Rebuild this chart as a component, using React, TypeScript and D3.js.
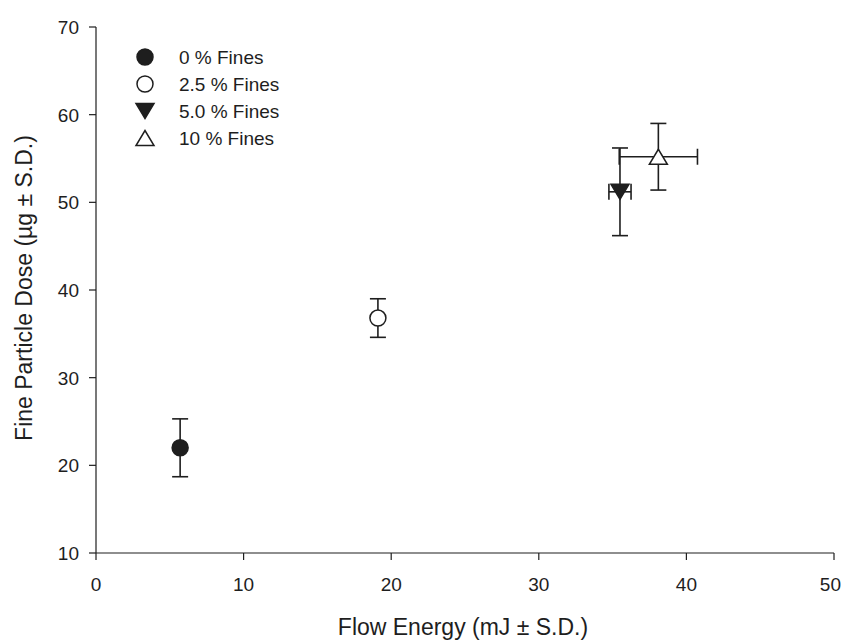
import React, { useEffect } from "react";
import * as d3 from "d3";

// Flow energy vs fine particle dose for blends with different fines content
const seriesNames = ["0 % Fines", "2.5 % Fines", "5.0 % Fines", "10 % Fines"];
const flowEnergy = [5.7, 19.1, 35.5, 38.1];
const flowEnergySD = [0, 0, 0.75, 2.65];
const particleDose = [22.0, 36.8, 51.2, 55.2];
const particleDoseSD = [3.3, 2.2, 5.0, 3.8];
const markerShapes = ["circle", "circle", "triangleDown", "triangleUp"];
const markerFilled = [true, false, true, false];

const xTicks = [0, 10, 20, 30, 40, 50];
const yTicks = [10, 20, 30, 40, 50, 60, 70];

const W = 842;
const H = 640;
const INK = "#1e1e1e";
const FONT = "'Liberation Sans', Arial, sans-serif";

const x = d3.scaleLinear().domain([0, 50]).range([96, 834]);
const y = d3.scaleLinear().domain([10, 70]).range([553, 27]);

function triPath(cx: number, cy: number, w: number, h: number, down: boolean) {
  const p = d3.path();
  if (down) {
    p.moveTo(cx - w / 2, cy - h / 2);
    p.lineTo(cx + w / 2, cy - h / 2);
    p.lineTo(cx, cy + h / 2);
  } else {
    p.moveTo(cx - w / 2, cy + h / 2);
    p.lineTo(cx + w / 2, cy + h / 2);
    p.lineTo(cx, cy - h / 2);
  }
  p.closePath();
  return p.toString();
}

function Marker({ shape, filled, cx, cy }: { shape: string; filled: boolean; cx: number; cy: number }) {
  const fill = filled ? INK : "#fff";
  if (shape === "circle") {
    return <circle cx={cx} cy={cy} r={8} fill={fill} stroke={INK} strokeWidth={1.5} />;
  }
  return (
    <path
      d={triPath(cx, cy, 18, 15, shape === "triangleDown")}
      fill={fill}
      stroke={INK}
      strokeWidth={1.5}
      strokeLinejoin="miter"
    />
  );
}

export default function App() {
  useEffect(() => {
    document.body.style.margin = "0";
  }, []);

  const cap = 8;
  const legendX = 145;
  const legendY0 = 57;
  const legendStep = 27;
  const lastTick = xTicks[xTicks.length - 1];

  return (
    <svg width={W} height={H} style={{ display: "block", background: "#fff" }} fontFamily={FONT}>
      {/* axes */}
      <line x1={x(0)} x2={x(50)} y1={y(10)} y2={y(10)} stroke={INK} strokeWidth={1.2} />
      <line x1={x(0)} x2={x(0)} y1={y(10)} y2={y(70)} stroke={INK} strokeWidth={1.2} />
      {xTicks.map((t) => (
        <g key={"xt" + t}>
          <line x1={x(t)} x2={x(t)} y1={y(10)} y2={y(10) + 7} stroke={INK} strokeWidth={1.2} />
          {/* the last label is kept inside the right edge */}
          <text
            x={t === lastTick ? W - 1 : x(t)}
            y={591}
            textAnchor={t === lastTick ? "end" : "middle"}
            fontSize={19}
            fill={INK}
          >
            {t}
          </text>
        </g>
      ))}
      {yTicks.map((t) => (
        <g key={"yt" + t}>
          <line x1={x(0) - 7} x2={x(0)} y1={y(t)} y2={y(t)} stroke={INK} strokeWidth={1.2} />
          <text x={79} y={y(t) + 7} textAnchor="end" fontSize={19} fill={INK}>
            {t}
          </text>
        </g>
      ))}
      <text x={463} y={635} textAnchor="middle" fontSize={23} fill={INK}>
        Flow Energy (mJ ± S.D.)
      </text>
      <text transform={`translate(32,288) rotate(-90)`} textAnchor="middle" fontSize={23} fill={INK}>
        Fine Particle Dose (µg ± S.D.)
      </text>

      {/* error bars */}
      {flowEnergy.map((fe, i) => {
        const cx = x(fe);
        const cy = y(particleDose[i]);
        const yt = y(particleDose[i] + particleDoseSD[i]);
        const yb = y(particleDose[i] - particleDoseSD[i]);
        const hsd = flowEnergySD[i];
        return (
          <g key={"eb" + i} stroke={INK} strokeWidth={1.6}>
            <line x1={cx} x2={cx} y1={yt} y2={yb} />
            <line x1={cx - cap} x2={cx + cap} y1={yt} y2={yt} />
            <line x1={cx - cap} x2={cx + cap} y1={yb} y2={yb} />
            {hsd > 0 && (
              <>
                <line x1={x(fe - hsd)} x2={x(fe + hsd)} y1={cy} y2={cy} />
                <line x1={x(fe - hsd)} x2={x(fe - hsd)} y1={cy - cap} y2={cy + cap} />
                <line x1={x(fe + hsd)} x2={x(fe + hsd)} y1={cy - cap} y2={cy + cap} />
              </>
            )}
          </g>
        );
      })}

      {/* markers */}
      {flowEnergy.map((fe, i) => (
        <Marker key={"m" + i} shape={markerShapes[i]} filled={markerFilled[i]} cx={x(fe)} cy={y(particleDose[i])} />
      ))}

      {/* legend */}
      {seriesNames.map((name, i) => (
        <g key={"lg" + i}>
          <Marker shape={markerShapes[i]} filled={markerFilled[i]} cx={legendX} cy={legendY0 + i * legendStep} />
          <text x={179} y={legendY0 + i * legendStep + 7} fontSize={19} fill={INK}>
            {name}
          </text>
        </g>
      ))}
    </svg>
  );
}
